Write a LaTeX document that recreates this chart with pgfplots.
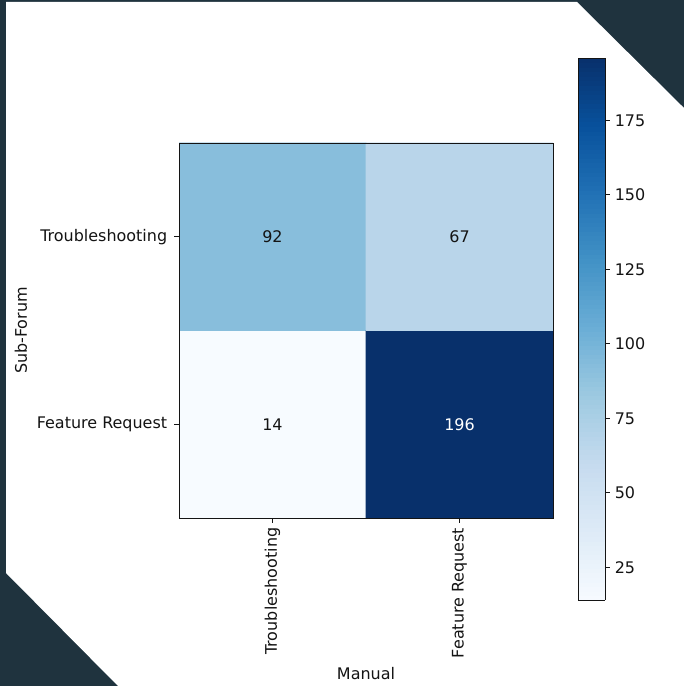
\documentclass[border=0pt]{standalone}
\usepackage{pgfplots}
\pgfplotsset{compat=1.18}
\usepackage{fontspec}
\setmainfont{DejaVu Sans}
\definecolor{bgdark}{RGB}{31,51,62}
\definecolor{txt}{RGB}{20,20,20}
\newcommand{\fsz}{\fontsize{11.5}{13.8}\selectfont}
\pgfplotsset{
  colormap={mplblues}{rgb255=(247,251,255) rgb255=(222,235,247) rgb255=(198,219,239) rgb255=(158,202,225) rgb255=(107,174,214) rgb255=(66,146,198) rgb255=(33,113,181) rgb255=(8,81,156) rgb255=(8,48,107)}
}
\begin{document}
\begin{tikzpicture}
\useasboundingbox (0,0) rectangle (492.48pt,493.92pt);
\fill[bgdark] (0,0) rectangle (492.48pt,493.92pt);
\fill[white] (4.32pt,492.48pt) -- (415.44pt,492.48pt) -- (492.48pt,416.16pt) -- (492.48pt,0pt) -- (84.96pt,0pt) -- (4.32pt,81.36pt) -- cycle;
\begin{axis}[
  at={(128.88pt,120.96pt)}, anchor=south west,
  scale only axis, width=269.28pt, height=270pt,
  xmin=-0.5, xmax=1.5, ymin=-0.5, ymax=1.5,
  axis on top,
  colormap name=mplblues,
  point meta min=14, point meta max=196,
  xtick={0,1}, xticklabels={Troubleshooting, Feature Request},
  ytick={0,1}, yticklabels={Feature Request, Troubleshooting},
  xticklabel style={rotate=90, anchor=east, font=\fsz, text=txt},
  yticklabel style={font=\fsz, xshift=-1.5pt, text=txt},
  tick align=outside, tick pos=left,
  major tick length=3.5pt,
  every tick/.style={txt, line width=0.7pt},
  axis line style={line width=0.7pt, txt},
  xlabel={Manual}, ylabel={Sub-Forum},
  xlabel style={at={(axis description cs:0.5,-0.4159)}, anchor=center, font=\fsz, text=txt},
  ylabel style={at={(axis description cs:-0.4225,0.5)}, anchor=center, rotate=0, font=\fsz, text=txt},
  /pgf/number format/assume math mode=true,
  colorbar sampled,
  colorbar shift/.style={},
  colorbar style={
    at={(parent axis.south east)}, anchor=south west,
    xshift=18pt, yshift=-59.04pt,
    scale only axis, width=19.44pt, height=390.24pt,
    samples=120,
    axis on top,
    ytick={25,50,75,100,125,150,175},
    tick align=outside, ytick pos=right, yticklabel pos=right,
    major tick length=3.5pt,
    every tick/.style={txt, line width=0.7pt},
    axis line style={line width=0.6pt, txt},
    yticklabel style={font=\fsz, text=txt},
    /pgf/number format/assume math mode=true,
  },
]
\addplot[matrix plot*, mesh/cols=2, point meta=explicit] table[meta=C] {
x y C
0 0 14
1 0 196
0 1 92
1 1 67
};
\addplot[draw=none, mark=none, nodes near coords, point meta=explicit symbolic,
  every node near coord/.style={anchor=center, text=txt, font=\fsz}] table[meta=L] {
x y L
0 0 14
0 1 92
1 1 67
};
\addplot[draw=none, mark=none, nodes near coords, point meta=explicit symbolic,
  every node near coord/.style={anchor=center, text=white, font=\fsz}] table[meta=L] {
x y L
1 0 196
};
\end{axis}
\end{tikzpicture}
\end{document}
